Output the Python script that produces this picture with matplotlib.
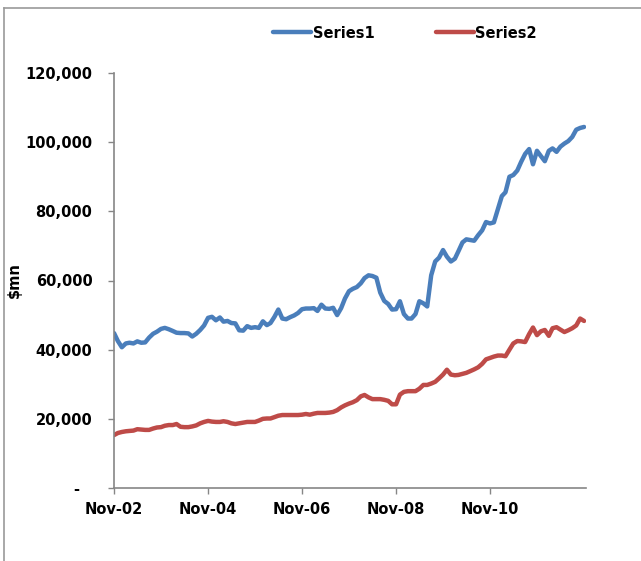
import matplotlib
matplotlib.use("Agg")
import matplotlib.pyplot as plt
from matplotlib.lines import Line2D
from matplotlib.transforms import ScaledTranslation
import pandas as pd

start_month = "2002-11-01"
n_months = 121

series1 = [44.8, 42.5, 40.7, 41.8, 42.0, 41.8, 42.4, 42.0, 42.1, 43.5,
           44.6, 45.2, 46.0, 46.3, 45.9, 45.4, 44.9, 44.8, 44.8, 44.7,
           43.8, 44.6, 45.7, 47.0, 49.2, 49.5, 48.5, 49.3, 48.1, 48.3,
           47.7, 47.6, 45.6, 45.5, 46.8, 46.3, 46.5, 46.3, 48.2, 47.1,
           47.7, 49.5, 51.6, 49.0, 48.8, 49.4, 49.9, 50.6, 51.7, 51.9,
           51.9, 52.0, 51.2, 53.0, 51.9, 51.8, 52.1, 50.0, 52.0, 54.8,
           56.9, 57.6, 58.1, 59.2, 60.7, 61.5, 61.3, 60.8, 56.5, 54.1,
           53.2, 51.6, 51.7, 54.0, 50.3, 49.0, 49.0, 50.3, 54.0, 53.4,
           52.5, 61.5, 65.5, 66.6, 68.8, 66.9, 65.5, 66.3, 68.5, 71.0,
           71.9, 71.7, 71.5, 73.1, 74.5, 76.9, 76.5, 76.8, 80.6, 84.4,
           85.5, 90.0, 90.5, 91.8, 94.3, 96.6, 98.0, 93.6, 97.5, 96.0,
           94.5, 97.5, 98.2, 97.2, 98.7, 99.6, 100.3, 101.5, 103.6, 104.1,
           104.4]

series2 = [15.3, 15.9, 16.2, 16.4, 16.5, 16.6, 17.0, 16.9, 16.8, 16.8,
           17.2, 17.5, 17.6, 18.0, 18.2, 18.2, 18.5, 17.7, 17.6, 17.6,
           17.8, 18.1, 18.7, 19.1, 19.4, 19.2, 19.1, 19.1, 19.3, 19.1,
           18.7, 18.5, 18.7, 18.9, 19.1, 19.1, 19.1, 19.5, 20.0, 20.1,
           20.1, 20.5, 20.9, 21.1, 21.1, 21.1, 21.1, 21.1, 21.2, 21.4,
           21.2, 21.5, 21.7, 21.7, 21.7, 21.8, 22.0, 22.5, 23.3, 23.9,
           24.4, 24.8, 25.4, 26.5, 26.9, 26.2, 25.7, 25.7, 25.7, 25.5,
           25.2, 24.2, 24.2, 27.0, 27.8, 28.0, 28.0, 28.0, 28.7, 29.8,
           29.8, 30.2, 30.7, 31.7, 32.8, 34.2, 32.8, 32.6, 32.7, 33.0,
           33.3, 33.8, 34.3, 34.9, 35.9, 37.2, 37.6, 38.0, 38.3, 38.3,
           38.1, 40.0, 41.8, 42.5, 42.4, 42.2, 44.5, 46.4, 44.2, 45.3,
           45.7, 44.0, 46.2, 46.5, 45.8, 45.1, 45.6, 46.2, 47.0, 49.0,
           48.3]

x_tick_dates = ["2002-11-01", "2004-11-01", "2006-11-01", "2008-11-01", "2010-11-01"]
x_tick_labels = ["Nov-02", "Nov-04", "Nov-06", "Nov-08", "Nov-10"]
y_ticks = [0, 20000, 40000, 60000, 80000, 100000, 120000]
y_tick_labels = ["-", "20,000", "40,000", "60,000", "80,000", "100,000", "120,000"]
series_names = ["Series1", "Series2"]

dates = pd.date_range(start_month, periods=n_months, freq="MS")
s1 = [v * 1000 for v in series1]
s2 = [v * 1000 for v in series2]

W, H = 641, 561
fig = plt.figure(figsize=(W / 100, H / 100), dpi=100)
fig.patch.set_facecolor("white")

# chart area border (left and top visible)
fig.add_artist(Line2D([4 / W, 4 / W], [0, 1 - 8 / H], transform=fig.transFigure,
                      color="#9a9a9a", lw=1.2))
fig.add_artist(Line2D([4 / W, 1], [1 - 8 / H, 1 - 8 / H], transform=fig.transFigure,
                      color="#9a9a9a", lw=1.2))

ax = fig.add_axes([114 / W, 1 - 488 / H, (586 - 114) / W, (488 - 73) / H])

blue = "#4A7EBB"
red = "#BE4B48"
ax.plot(dates, s1, color=blue, lw=3.2, solid_joinstyle="round", solid_capstyle="round",
        label=series_names[0])
ax.plot(dates, s2, color=red, lw=3.2, solid_joinstyle="round", solid_capstyle="round",
        label=series_names[1])

ax.set_ylim(0, 120000)
ax.set_xlim(pd.Timestamp("2002-11-01"), pd.Timestamp("2012-11-16"))

ax.set_yticks(y_ticks)
ax.set_yticklabels(y_tick_labels, fontweight="bold", fontsize=10.5)
ax.set_xticks([pd.Timestamp(d) for d in x_tick_dates])
ax.set_xticklabels(x_tick_labels, fontweight="bold", fontsize=10.5)

for s in ["top", "right"]:
    ax.spines[s].set_visible(False)
for s in ["left", "bottom"]:
    ax.spines[s].set_color("#868686")
    ax.spines[s].set_linewidth(1.2)
ax.tick_params(axis="y", direction="out", length=4.5, width=1, color="#868686", pad=11)
ax.tick_params(axis="x", direction="out", length=4, width=1, color="#868686", pad=6)

# Excel accounting-style zero label sits left of the digits' right edge
zero_lbl = ax.get_yticklabels()[0]
zero_lbl.set_transform(zero_lbl.get_transform() +
                       ScaledTranslation(-13 / 100, 0, fig.dpi_scale_trans))

ax.set_ylabel("$mn", fontweight="bold", fontsize=10.5)
ax.yaxis.set_label_coords((22 - 114) / (586 - 114), 0.5)

leg = fig.legend(loc="center", bbox_to_anchor=(405 / W, 1 - 33 / H), ncol=2,
                 frameon=False, prop={"weight": "bold", "size": 10.5},
                 handlelength=2.6, handletextpad=0.1, columnspacing=4.2)

fig.savefig("out.png", dpi=100, facecolor="white")
